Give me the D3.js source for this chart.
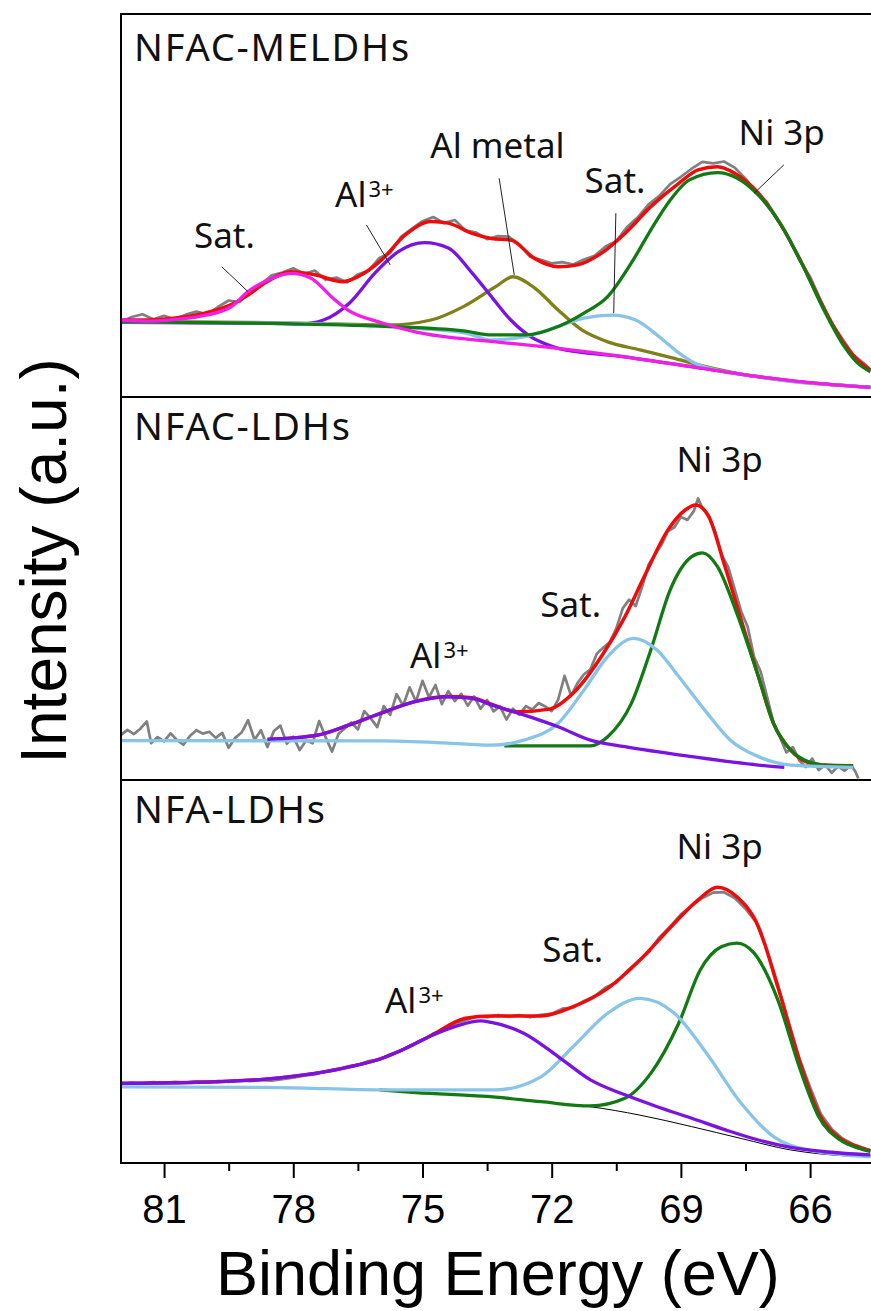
<!DOCTYPE html>
<html>
<head>
<meta charset="utf-8">
<script src="https://cdn.jsdelivr.net/npm/d3@7"></script>
<style>
  html, body { margin: 0; padding: 0; background: #ffffff; }
  svg { display: block; }
</style>
</head>
<body>
<svg id="chart" width="871" height="1311"></svg>
<script>
// ---------------- data ----------------
// Binding energy axis (eV), drawn high -> low
const energyRange = [82, 64.5];
const majorTicks = [81, 78, 75, 72, 69, 66];
const minorTicks = [79.5, 76.5, 73.5, 70.5, 67.5];
const sampleNames = ["NFAC-MELDHs", "NFAC-LDHs", "NFA-LDHs"];

// ---- NFAC-MELDHs: [binding energy (eV), intensity (a.u.)] ----
const meldhsRaw = [
  [82.0,19.6],[81.75,20.9],[81.5,21.6],[81.25,20.3],[81.0,21.2],[80.75,20.3],[80.5,21.5],[80.25,22.3],
  [80.0,21.6],[79.75,23.5],[79.5,25.2],[79.25,24.8],[79.0,27.6],[78.75,29.4],[78.5,31.8],[78.25,32.5],
  [78.0,33.6],[77.75,32.2],[77.5,33.0],[77.25,30.6],[77.0,31.2],[76.75,29.9],[76.5,32.0],[76.25,33.0],
  [76.0,36.3],[75.75,37.6],[75.5,41.8],[75.25,43.9],[75.0,45.9],[74.75,47.0],[74.5,45.4],[74.25,46.2],
  [74.0,43.5],[73.75,42.9],[73.5,41.2],[73.25,42.0],[73.0,41.9],[72.75,39.8],[72.5,36.6],[72.25,35.8],
  [72.0,34.9],[71.75,35.2],[71.5,34.6],[71.25,35.9],[71.0,36.9],[70.75,39.3],[70.5,40.7],[70.25,44.4],
  [70.0,46.9],[69.75,50.3],[69.5,52.5],[69.25,55.6],[69.0,57.5],[68.75,59.6],[68.5,61.4],[68.25,61.0],
  [68.0,61.5],[67.75,59.9],[67.5,57.0],[67.25,53.4],[67.0,50.9],[66.75,46.0],[66.5,41.7],[66.25,35.8],
  [66.0,31.4],[65.75,25.2],[65.5,19.3],[65.25,15.2],[65.0,11.0],[64.75,8.8],[64.6,7.2]
];
const meldhsEnvelope = [
  [82.0,20.1],[81.4,20.1],[80.6,20.8],[80.05,21.9],[79.4,24.3],[79.05,26.6],[78.65,29.8],[78.05,32.7],
  [77.5,31.9],[76.85,30.1],[76.5,31.4],[75.95,35.8],[75.4,42.3],[74.8,45.8],[74.4,45.4],[73.85,42.7],
  [73.4,41.4],[72.95,41.0],[72.4,36.2],[71.85,34.0],[71.4,34.5],[70.85,37.5],[70.3,42.7],[69.7,49.7],
  [69.05,55.8],[68.6,59.3],[68.15,60.1],[67.75,58.4],[67.2,53.2],[66.7,45.4],[66.15,34.0],[65.7,23.6],
  [65.2,13.8],[64.9,9.7],[64.6,7.0]
];
const meldhsAlMetal = [
  [82.0,19.7],[79.0,19.5],[77.0,19.1],[75.8,18.8],[74.8,20.1],[74.05,23.6],[73.3,28.8],[72.9,31.4],
  [72.4,28.5],[71.85,22.7],[71.3,17.5],[70.7,14.4],[69.95,12.3],[69.2,10.2],[68.4,7.9],[67.25,5.3],
  [66.05,3.7],[64.6,2.6]
];
const meldhsAl3 = [
  [82.0,19.5],[78.5,19.2],[77.8,19.1],[77.3,20.1],[76.7,24.5],[76.1,32.4],[75.57,37.9],[74.95,40.3],
  [74.4,38.9],[73.85,32.4],[73.35,25.5],[72.95,20.1],[72.48,15.7],[72.09,13.6],[71.85,12.7],[70.3,10.5],
  [68.75,7.9],[67.2,5.3],[65.7,3.4],[64.6,2.5]
];
const meldhsNiSat = [
  [82.0,19.6],[78.0,19.3],[76.0,18.5],[75.0,17.8],[74.0,16.7],[73.4,14.9],[72.65,15.7],[71.85,18.4],
  [71.25,20.6],[70.6,21.4],[70.05,20.1],[69.5,15.7],[69.05,11.5],[68.6,8.4],[68.15,7.0],[67.2,5.3],
  [66.15,3.7],[65.2,3.0],[64.6,2.5]
];
const meldhsNi3p = [
  [82.0,19.6],[78.0,19.1],[75.5,18.3],[74.0,17.2],[73.4,16.2],[72.6,16.2],[71.85,18.4],[71.25,21.9],
  [70.7,26.2],[70.15,35.0],[69.7,43.6],[69.25,51.4],[68.8,56.7],[68.15,58.6],[67.7,57.2],[67.2,52.7],
  [66.7,45.4],[66.15,33.9],[65.7,23.2],[65.2,13.1],[64.9,8.9],[64.6,6.6]
];
const meldhsAlSat = [
  [82.0,20.1],[81.4,19.8],[80.6,20.4],[80.2,21.0],[79.45,23.5],[79.05,27.5],[78.6,30.5],[78.05,32.3],
  [77.6,31.1],[77.05,25.5],[76.73,22.7],[75.95,19.4],[75.17,17.0],[73.3,14.4],[71.85,12.7],[70.3,10.5],
  [68.75,7.9],[67.2,5.3],[65.7,3.4],[64.6,2.5]
];
const meldhsLabels = [
  { text: "Sat.", e: 79.6, i: 38.9, anchor: "middle" },
  { text: "Al", sup: "3+", e: 77.03, i: 49.6, anchor: "start" },
  { text: "Al metal", e: 73.26, i: 62.4, anchor: "middle" },
  { text: "Sat.", e: 70.53, i: 53.2, anchor: "middle" },
  { text: "Ni 3p", e: 66.66, i: 65.8, anchor: "middle" }
];
const meldhsLeaders = [
  [[79.66,34.0],[79.05,27.5]],
  [[76.30,44.9],[75.75,34.5]],
  [[73.22,57.1],[72.87,31.9]],
  [[70.51,48.0],[70.56,21.9]],
  [[66.61,60.6],[67.30,53.2]]
];

// ---- NFAC-LDHs ----
const ldhsRaw = [
  [82.00,11.8],[81.85,13.1],[81.70,12.0],[81.55,13.4],[81.40,15.3],[81.30,9.6],[81.15,11.2],[81.00,10.1],
  [80.85,12.2],[80.70,10.4],[80.55,9.2],[80.40,11.5],[80.25,13.0],[80.10,12.1],[79.95,12.6],[79.80,11.0],
  [79.65,12.3],[79.50,8.4],[79.35,11.0],[79.20,12.4],[79.05,15.6],[78.90,10.5],[78.75,13.0],[78.60,8.6],
  [78.45,12.8],[78.30,14.2],[78.15,9.5],[78.00,11.3],[77.85,7.8],[77.70,10.4],[77.55,9.6],[77.40,15.4],
  [77.25,11.2],[77.10,7.4],[76.95,12.0],[76.80,13.5],[76.65,15.0],[76.50,13.2],[76.35,18.0],[76.20,16.1],
  [76.05,13.8],[75.90,19.3],[75.75,17.0],[75.60,22.4],[75.45,19.4],[75.30,24.2],[75.15,20.5],[75.00,25.9],
  [74.85,21.6],[74.70,24.8],[74.55,19.8],[74.40,23.2],[74.25,20.6],[74.10,22.5],[73.95,19.4],[73.80,21.8],
  [73.65,18.6],[73.50,20.9],[73.35,17.9],[73.20,19.2],[73.05,15.8],[72.90,18.6],[72.75,17.0],[72.60,19.3],
  [72.45,18.4],[72.30,20.1],[72.15,19.2],[72.00,18.0],[71.85,21.0],[71.70,27.2],[71.55,22.0],[71.40,25.3],
  [71.25,27.6],[71.10,28.9],[70.95,33.0],[70.80,34.6],[70.65,36.0],[70.50,39.6],[70.35,44.8],[70.20,47.1],
  [70.05,45.4],[69.90,50.5],[69.75,56.2],[69.60,58.9],[69.45,61.4],[69.30,65.0],[69.15,66.0],[69.00,68.7],
  [68.85,67.9],[68.70,70.2],[68.60,73.5],[68.50,71.0],[68.35,68.9],[68.20,64.6],[68.05,58.7],[67.90,55.6],
  [67.75,49.8],[67.60,44.0],[67.45,40.0],[67.30,32.1],[67.15,28.4],[67.00,21.8],[66.85,15.0],[66.70,11.2],
  [66.55,7.2],[66.40,8.6],[66.25,5.1],[66.10,3.4],[65.95,5.6],[65.80,2.6],[65.65,4.0],[65.50,1.9],
  [65.35,3.6],[65.20,2.4],[65.05,3.9],[64.95,2.2],[64.88,0.4]
];
const ldhsEnvelope = [
  [78.6,10.6],[77.45,11.7],[76.7,14.4],[75.95,17.5],[75.2,20.4],[74.4,21.8],[73.85,21.5],[73.4,19.8],
  [72.8,17.8],[72.05,18.5],[71.5,22.7],[70.85,32.2],[70.3,42.6],[69.85,53.1],[69.3,65.3],[68.9,70.5],
  [68.65,71.8],[68.35,68.7],[68.0,56.6],[67.6,41.8],[67.2,27.0],[66.85,14.8],[66.45,7.8],[66.1,4.8],
  [65.7,3.9],[65.0,3.7]
];
const ldhsNi3p = [
  [73.1,8.9],[71.1,8.9],[70.7,11.3],[70.15,20.0],[69.7,33.9],[69.25,49.6],[68.75,58.3],[68.5,59.3],
  [68.15,55.7],[67.7,43.5],[67.2,27.0],[66.85,14.8],[66.45,7.8],[66.05,4.8],[65.7,3.9],[65.0,3.7]
];
const ldhsNiSat = [
  [82.0,10.3],[76.0,10.2],[74.5,9.7],[73.4,9.1],[72.65,10.4],[71.85,14.8],[71.25,23.5],[70.7,32.2],
  [70.1,37.0],[69.55,33.9],[69.05,27.0],[68.45,18.3],[67.85,10.4],[67.2,6.1],[66.45,3.9],[65.0,3.3]
];
const ldhsAl3 = [
  [78.6,10.6],[77.45,11.7],[76.7,14.4],[75.95,17.5],[75.2,20.4],[74.4,21.7],[73.85,21.3],[73.4,19.6],
  [72.65,17.0],[71.85,13.9],[71.1,10.4],[70.3,8.7],[68.75,6.1],[67.2,3.9],[66.6,3.3]
];
const ldhsLabels = [
  { text: "Ni 3p", e: 68.10, i: 80.4, anchor: "middle" },
  { text: "Sat.", e: 71.56, i: 42.6, anchor: "middle" },
  { text: "Al", sup: "3+", e: 75.29, i: 29.2, anchor: "start" }
];

// ---- NFA-LDHs ----
const nfaRaw = [
  [82.0,20.6],[81.75,21.0],[81.5,20.8],[81.25,21.1],[81.0,20.9],[80.75,21.2],[80.5,21.0],[80.25,21.3],
  [80.0,21.1],[79.75,21.4],[79.5,21.2],[79.25,21.6],[79.0,21.4],[78.75,21.6],[78.5,21.5],[78.25,21.9],
  [78.0,22.3],[77.75,22.8],[77.5,23.1],[77.25,23.9],[77.0,24.3],[76.75,25.2],[76.5,25.6],[76.25,26.6],
  [76.0,27.0],[75.75,28.4],[75.5,29.3],[75.25,30.9],[75.0,32.0],[74.75,33.8],[74.5,34.8],[74.25,36.4],
  [74.0,37.2],[73.75,38.3],[73.5,38.1],[73.25,38.6],[73.0,38.2],[72.75,38.6],[72.5,38.1],[72.25,38.7],
  [72.0,39.0],[71.75,40.3],[71.5,40.6],[71.25,42.3],[71.0,43.6],[70.75,45.8],[70.5,47.1],[70.25,50.1],
  [70.0,52.6],[69.75,55.0],[69.5,58.9],[69.25,61.7],[69.0,64.9],[68.75,67.1],[68.5,69.2],[68.25,70.6],
  [68.0,70.7],[67.75,69.2],[67.5,66.4],[67.25,62.8],[67.0,55.6],[66.75,46.6],[66.5,36.9],[66.25,27.3],
  [66.0,19.8],[65.75,12.8],[65.5,8.9],[65.25,6.4],[65.0,4.9],[64.75,3.9],[64.6,3.3]
];
const nfaEnvelope = [
  [82.0,20.8],[79.8,21.2],[78.65,21.9],[77.5,23.4],[76.7,25.1],[75.95,27.3],[75.4,29.9],[74.8,33.3],
  [74.0,37.8],[73.4,38.4],[72.25,38.4],[71.5,40.8],[70.7,45.6],[69.95,53.0],[69.15,62.6],[68.6,68.7],
  [68.15,72.0],[67.7,69.5],[67.2,61.7],[66.75,46.0],[66.25,26.9],[65.8,13.0],[65.3,6.4],[64.85,4.1],
  [64.6,3.2]
];
const nfaBackground = [
  [72.25,16.0],[71.1,14.7],[69.95,12.5],[68.75,9.5],[67.6,6.4],[66.45,3.4],[65.7,2.3],[64.6,1.6]
];
const nfaNi3p = [
  [76.0,19.1],[75.15,18.4],[73.3,17.2],[72.25,16.0],[71.1,14.9],[70.3,16.9],[69.7,23.4],[69.05,36.5],
  [68.55,50.4],[68.05,56.5],[67.7,57.4],[67.3,54.8],[66.75,42.6],[66.25,25.1],[65.8,12.1],[65.3,6.0],
  [64.85,3.8],[64.6,3.0]
];
const nfaNiSat = [
  [82.0,19.9],[78.3,19.7],[75.95,19.1],[73.3,19.1],[72.25,22.5],[71.5,30.4],[70.7,39.1],[69.95,43.0],
  [69.15,39.1],[68.4,28.6],[67.6,15.6],[66.85,6.9],[66.05,3.4],[64.6,1.6]
];
const nfaAl3 = [
  [82.0,20.8],[79.8,21.2],[78.65,21.9],[77.5,23.4],[76.7,25.1],[75.95,27.3],[75.4,29.9],[74.8,33.2],
  [74.2,35.8],[73.65,37.1],[73.4,36.7],[72.65,33.9],[71.85,27.8],[71.1,21.7],[70.3,17.8],[69.55,14.7],
  [68.75,11.7],[67.95,8.6],[67.2,6.0],[66.45,4.1],[65.7,3.0],[64.6,2.1]
];
const nfaLabels = [
  { text: "Ni 3p", e: 68.10, i: 79.4, anchor: "middle" },
  { text: "Sat.", e: 71.51, i: 52.5, anchor: "middle" },
  { text: "Al", sup: "3+", e: 75.87, i: 39.2, anchor: "start" }
];

// ---------------- styling ----------------
const colors = {
  raw: "#808080",
  envelope: "#f00a0a",
  ni3p: "#127a12",
  niSat: "#88c4e8",
  al3: "#7a12e4",
  alMetal: "#80801a",
  alSat: "#f21ee6",
  background: "#000000"
};

const plotLeft = 121, plotRight = 874.7, plotTop = 14, panelHeight = 383;
const fitWidth = 3.3;

const panels = [
  {
    name: sampleNames[0], titleDy: 47, raw: meldhsRaw, envelope: meldhsEnvelope,
    components: [
      { data: meldhsAlMetal, color: colors.alMetal, width: fitWidth },
      { data: meldhsAl3, color: colors.al3, width: fitWidth },
      { data: meldhsNiSat, color: colors.niSat, width: fitWidth },
      { data: meldhsNi3p, color: colors.ni3p, width: fitWidth },
      { data: meldhsAlSat, color: colors.alSat, width: fitWidth }
    ],
    labels: meldhsLabels, leaders: meldhsLeaders
  },
  {
    name: sampleNames[1], titleDy: 43, raw: ldhsRaw, envelope: ldhsEnvelope,
    components: [
      { data: ldhsNi3p, color: colors.ni3p, width: fitWidth },
      { data: ldhsNiSat, color: colors.niSat, width: fitWidth },
      { data: ldhsAl3, color: colors.al3, width: fitWidth }
    ],
    labels: ldhsLabels, leaders: []
  },
  {
    name: sampleNames[2], titleDy: 43, raw: nfaRaw, envelope: nfaEnvelope,
    components: [
      { data: nfaBackground, color: colors.background, width: 1 },
      { data: nfaNi3p, color: colors.ni3p, width: fitWidth },
      { data: nfaNiSat, color: colors.niSat, width: fitWidth },
      { data: nfaAl3, color: colors.al3, width: fitWidth }
    ],
    labels: nfaLabels, leaders: []
  }
];

// ---------------- drawing ----------------
const svg = d3.select("#chart");
const x = d3.scaleLinear().domain(energyRange).range([plotLeft, plotRight]);

const labelFont = "'Noto Sans', 'Open Sans', sans-serif";
const axisFont = "'Liberation Sans', Arial, sans-serif";

panels.forEach((p, k) => {
  const top = plotTop + k * panelHeight;
  const bottom = top + panelHeight;
  const y = d3.scaleLinear().domain([0, 100]).range([bottom, top]);

  const g = svg.append("g").attr("class", "panel");

  const smooth = d3.line().x(d => x(d[0])).y(d => y(d[1])).curve(d3.curveMonotoneX);
  const jagged = d3.line().x(d => x(d[0])).y(d => y(d[1]));

  g.append("path").datum(p.raw)
    .attr("d", jagged).attr("fill", "none")
    .attr("stroke", colors.raw).attr("stroke-width", 2.7).attr("stroke-linejoin", "round");

  g.append("path").datum(p.envelope)
    .attr("d", smooth).attr("fill", "none")
    .attr("stroke", colors.envelope).attr("stroke-width", 3.5).attr("stroke-linejoin", "round");

  p.components.forEach(c => {
    g.append("path").datum(c.data)
      .attr("d", smooth).attr("fill", "none")
      .attr("stroke", c.color).attr("stroke-width", c.width).attr("stroke-linejoin", "round");
  });

  // thin leader lines from labels to peaks
  g.selectAll("line.leader").data(p.leaders).join("line")
    .attr("class", "leader")
    .attr("x1", d => x(d[0][0])).attr("y1", d => y(d[0][1]))
    .attr("x2", d => x(d[1][0])).attr("y2", d => y(d[1][1]))
    .attr("stroke", "#222").attr("stroke-width", 1);

  // peak labels
  p.labels.forEach(l => {
    const t = g.append("text")
      .attr("x", x(l.e)).attr("y", y(l.i))
      .attr("text-anchor", l.anchor)
      .attr("font-family", labelFont).attr("font-size", 35)
      .attr("fill", "#111")
      .style("white-space", "pre")
      .text(l.text);
    if (l.sup) {
      t.append("tspan").attr("font-size", 22).attr("dy", -10).attr("dx", 2).text(l.sup);
    }
  });

  // sample name
  g.append("text")
    .attr("x", plotLeft + 13).attr("y", top + p.titleDy)
    .attr("font-family", labelFont).attr("font-size", 38)
    .attr("letter-spacing", 1.8).attr("fill", "#111")
    .text(p.name);
});

// frame and panel dividers
const plotBottom = plotTop + 3 * panelHeight;
svg.append("rect")
  .attr("x", plotLeft).attr("y", plotTop)
  .attr("width", plotRight - plotLeft).attr("height", plotBottom - plotTop)
  .attr("fill", "none").attr("stroke", "#000").attr("stroke-width", 2);
[1, 2].forEach(k => {
  svg.append("line")
    .attr("x1", plotLeft).attr("x2", plotRight)
    .attr("y1", plotTop + k * panelHeight).attr("y2", plotTop + k * panelHeight)
    .attr("stroke", "#000").attr("stroke-width", 2);
});

// bottom axis: major and minor ticks
const majorAxis = d3.axisBottom(x).tickValues(majorTicks).tickSize(15).tickPadding(17)
  .tickFormat(d3.format("d"));
const minorAxis = d3.axisBottom(x).tickValues(minorTicks).tickSize(8).tickFormat("");

const gMajor = svg.append("g").attr("transform", `translate(0,${plotBottom})`).call(majorAxis);
const gMinor = svg.append("g").attr("transform", `translate(0,${plotBottom})`).call(minorAxis);
[gMajor, gMinor].forEach(a => {
  a.select(".domain").remove();
  a.selectAll(".tick line").attr("stroke", "#000").attr("stroke-width", 2);
});
gMajor.selectAll(".tick text")
  .attr("font-family", axisFont).attr("font-size", 40).attr("fill", "#000");

// axis titles
svg.append("text")
  .attr("x", (plotLeft + plotRight) / 2).attr("y", 1295)
  .attr("text-anchor", "middle")
  .attr("font-family", axisFont).attr("font-size", 63).attr("fill", "#000")
  .text("Binding Energy (eV)");

svg.append("text")
  .attr("transform", "translate(66,561) rotate(-90)")
  .attr("text-anchor", "middle")
  .attr("font-family", axisFont).attr("font-size", 64).attr("fill", "#000")
  .text("Intensity (a.u.)");
</script>
</body>
</html>
